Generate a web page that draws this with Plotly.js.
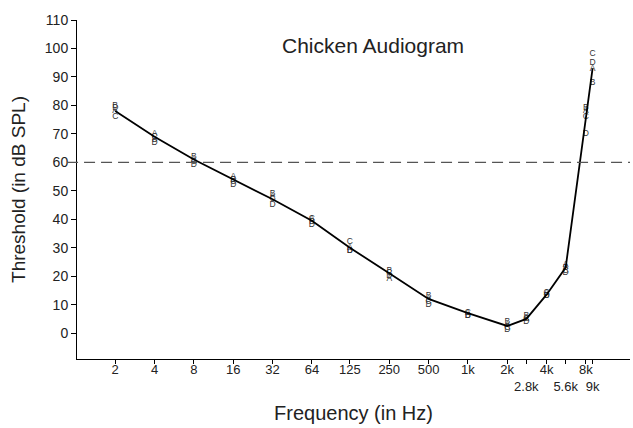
<!DOCTYPE html>
<html>
<head>
<meta charset="utf-8">
<script src="https://cdn.plot.ly/plotly-3.0.1.min.js"></script>
<style>html,body{margin:0;padding:0;background:#fff;}#chart{width:633px;height:428px;}</style>
</head>
<body>
<div id="chart"></div>
<script>
// Frequencies (Hz)
var freqs = [2, 4, 8, 16, 32, 64, 125, 250, 500, 1000, 2000, 2800, 4000, 5600, 8000, 9000];
// Individual birds (letters A-D), threshold dB SPL
var birdA = [78, 70, 61, 55, 48, 40, 30, 19, 12, 7, 3, 5, 14, 24, 78, 93];
var birdB = [80, 68, 62, 54, 49, 39, 29, 22, 13, 6, 4, 6, 13, 23, 79, 88];
var birdC = [76, 69, 60, 53, 47, 40, 32, 21, 11, 7, 2, 5, 14, 22, 76, 98];
var birdD = [79, 67, 59, 52, 45, 38, 29, 20, 10, 6, 1, 4, 13, 21, 70, 95];
// Mean audiogram
var meanThr = [78, 69, 61, 54, 47, 39.5, 30, 21, 12, 7, 2.5, 5, 13.5, 23, 76, 93];
// Tick labels
var tickVals = [2, 4, 8, 16, 32, 64, 125, 250, 500, 1000, 2000, 2800, 4000, 5600, 8000, 9000];
var tickText = ['2', '4', '8', '16', '32', '64', '125', '250', '500', '1k', '2k', '<br>2.8k', '4k', '<br>5.6k', '8k', '<br>9k'];
var refLevel = 60;

var font = 'Liberation Sans, Arial, sans-serif';

function letters(vals, ch) {
  return {
    x: freqs, y: vals, mode: 'text', type: 'scatter',
    text: freqs.map(function(){ return ch; }),
    textposition: 'middle center',
    textfont: {family: font, size: 8.5, color: '#333'},
    hoverinfo: 'skip', showlegend: false, cliponaxis: false
  };
}

var traces = [
  letters(birdA, 'A'), letters(birdB, 'B'), letters(birdC, 'C'), letters(birdD, 'D'),
  {x: freqs, y: meanThr, mode: 'lines', type: 'scatter', line: {color: '#000', width: 1.8}, showlegend: false}
];

var layout = {
  width: 633, height: 428,
  margin: {l: 77, r: 3, t: 20, b: 69},
  paper_bgcolor: '#fff', plot_bgcolor: '#fff',
  showlegend: false,
  font: {family: font, color: '#222'},
  xaxis: {
    type: 'log', range: [Math.log10(1.02), Math.log10(17400)],
    tickvals: tickVals, ticktext: tickText, tickangle: 0,
    ticks: 'outside', ticklen: 4, tickcolor: '#000', tickwidth: 1,
    ticklabelstandoff: -6,
    showline: true, linecolor: '#000', linewidth: 1,
    showgrid: false, zeroline: false,
    tickfont: {family: font, size: 13, color: '#222'},
    title: {text: 'Frequency (in Hz)', font: {family: font, size: 20, color: '#222'}, standoff: 13},
    automargin: false
  },
  yaxis: {
    range: [-9.1, 110],
    tickvals: [0,10,20,30,40,50,60,70,80,90,100,110],
    ticks: 'outside', ticklen: 5, tickcolor: '#000', tickwidth: 1,
    showline: true, linecolor: '#000', linewidth: 1,
    showgrid: false, zeroline: false,
    tickfont: {family: font, size: 14, color: '#222'},
    title: {text: 'Threshold (in dB SPL)', font: {family: font, size: 19, color: '#222'}, standoff: 14},
    automargin: false
  },
  shapes: [{
    type: 'line', xref: 'paper', yref: 'y', x0: -0.018, x1: 1, y0: refLevel, y1: refLevel,
    line: {color: '#555', width: 1.2, dash: '11px,6px'}
  }],
  annotations: [{
    text: 'Chicken Audiogram', xref: 'paper', yref: 'paper', x: 0.535, y: 0.965,
    showarrow: false, font: {family: font, size: 21, color: '#222'}
  }]
};

Plotly.newPlot('chart', traces, layout, {displayModeBar: false, staticPlot: true});
</script>
</body>
</html>
